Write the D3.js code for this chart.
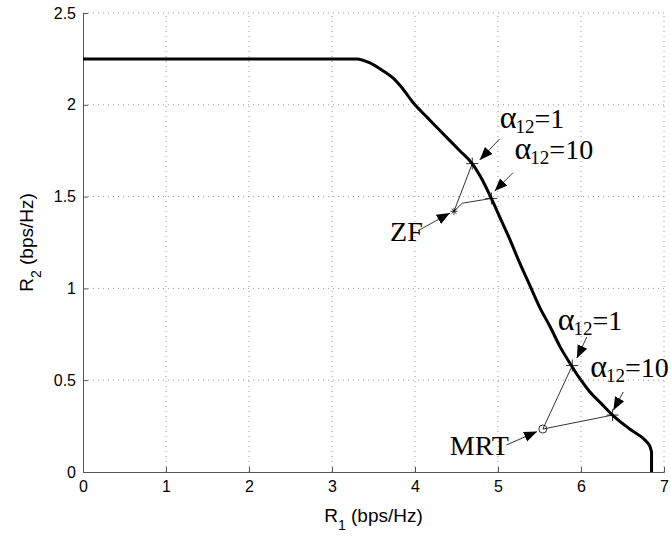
<!DOCTYPE html>
<html>
<head>
<meta charset="utf-8"/>
<title>Rate region</title>
<style>
  body { margin: 0; background: #fff; }
  svg { display: block; }
  .tick text { font-family: "Liberation Sans", Arial, sans-serif; font-size: 16px; fill: #000; }
  .grid line { stroke: #999; stroke-dasharray: 1,4; }
  .ann { font-family: "Liberation Serif", "Times New Roman", serif; font-size: 28px; fill: #000; }
</style>
</head>
<body>
<svg width="671" height="538"></svg>
<script src="https://cdn.jsdelivr.net/npm/d3@7"></script>
<script>

// rate region boundary
var r1 = [0, 3.30, 3.45, 3.60, 3.75, 3.83, 4.00, 4.15, 4.30, 4.54, 4.69, 4.80, 4.92, 5.02, 5.14, 5.26, 5.39, 5.51, 5.63, 5.75, 5.87, 6.00, 6.10, 6.24, 6.38, 6.60, 6.78, 6.83, 6.85, 6.85];
var r2 = [2.25, 2.25, 2.23, 2.19, 2.14, 2.10, 2.00, 1.93, 1.86, 1.75, 1.68, 1.60, 1.49, 1.39, 1.27, 1.14, 1.01, 0.89, 0.79, 0.68, 0.59, 0.50, 0.44, 0.375, 0.31, 0.23, 0.17, 0.14, 0.11, 0];

var xTicks = [0, 1, 2, 3, 4, 5, 6, 7];
var yTicks = [0, 0.5, 1, 1.5, 2, 2.5];

// operating points
var zfPoint = [4.47, 1.42];
var zfAlpha1 = [4.69, 1.68];
var zfAlpha10 = [4.92, 1.49];
var zfBend = [4.57, 1.464];
var mrtPoint = [5.54, 0.234];
var mrtAlpha1 = [5.895, 0.58];
var mrtAlpha10 = [6.38, 0.31];

// annotations (data units)
var labelNames = ["ZF", "MRT"];
var labelAt = [[3.70, 1.26], [4.42, 0.092]];
var labelArrows = [[[4.04, 1.315], [4.42, 1.41]], [[5.10, 0.147], [5.47, 0.22]]];

var alphaVals = ["1", "10", "1", "10"];
var alphaAt = [[5.02, 1.872], [5.20, 1.705], [5.72, 0.775], [6.11, 0.515]];
var alphaArrows = [
  [[5.02, 1.814], [4.78, 1.70]],
  [[5.18, 1.63], [4.96, 1.53]],
  [[6.07, 0.735], [5.95, 0.62]],
  [[6.51, 0.436], [6.39, 0.337]]
];

var svg = d3.select("svg");
var x = d3.scaleLinear().domain([0, 7]).range([83, 664]);
var y = d3.scaleLinear().domain([0, 2.5]).range([472, 13]);

svg.append("defs").append("marker")
    .attr("id", "head")
    .attr("viewBox", "0 0 10 10")
    .attr("refX", 10).attr("refY", 5)
    .attr("markerWidth", 13).attr("markerHeight", 13)
    .attr("markerUnits", "userSpaceOnUse")
    .attr("orient", "auto")
  .append("path")
    .attr("d", "M0,1 L10,5 L0,9 z")
    .attr("fill", "#000");

// grid
var grid = svg.append("g").attr("class", "grid");
grid.selectAll("line.v").data(xTicks.slice(1)).enter().append("line")
    .attr("x1", function(d) { return x(d); }).attr("x2", function(d) { return x(d); })
    .attr("y1", y(0)).attr("y2", y(2.5));
grid.selectAll("line.h").data(yTicks.slice(1)).enter().append("line")
    .attr("x1", x(0)).attr("x2", x(7))
    .attr("y1", function(d) { return y(d); }).attr("y2", function(d) { return y(d); });

// axes
var xAxis = svg.append("g")
    .attr("transform", "translate(0," + y(0) + ")")
    .call(d3.axisBottom(x).tickValues(xTicks).tickFormat(d3.format("d")).tickSize(-5).tickPadding(9));
var yAxis = svg.append("g")
    .attr("transform", "translate(" + x(0) + ",0)")
    .call(d3.axisLeft(y).tickValues(yTicks).tickFormat(function(d) { return String(d); }).tickSize(-5).tickPadding(7));
[xAxis, yAxis].forEach(function(a) {
  a.select(".domain").attr("stroke", "#555");
  a.selectAll(".tick line").attr("stroke", "#555");
});

// axis titles
var xt = svg.append("text")
    .attr("x", (x(0) + x(7)) / 2).attr("y", 522)
    .attr("text-anchor", "middle")
    .style("font-family", "Liberation Sans, Arial, sans-serif").style("font-size", "19px");
xt.append("tspan").text("R");
xt.append("tspan").text("1").attr("dy", 8).style("font-size", "14px");
xt.append("tspan").text(" (bps/Hz)").attr("dy", -8);

var yt = svg.append("text")
    .attr("transform", "translate(33," + (y(0) + y(2.5)) / 2 + ") rotate(-90)")
    .attr("text-anchor", "middle")
    .style("font-family", "Liberation Sans, Arial, sans-serif").style("font-size", "19px");
yt.append("tspan").text("R");
yt.append("tspan").text("2").attr("dy", 8).style("font-size", "14px");
yt.append("tspan").text(" (bps/Hz)").attr("dy", -8);

// boundary curve: smooth over the monotone part, straight drop at the end
var line = d3.line().x(function(d) { return x(d[0]); }).y(function(d) { return y(d[1]); });
var smooth = d3.line().x(function(d) { return x(d[0]); }).y(function(d) { return y(d[1]); })
    .curve(d3.curveMonotoneX);
var pts = d3.zip(r1, r2);
var n = pts.length;
svg.append("path")
    .attr("d", smooth(pts.slice(0, n - 1)) + "L" + x(pts[n - 1][0]) + "," + y(pts[n - 1][1]))
    .attr("fill", "none").attr("stroke", "#000").attr("stroke-width", 3)
    .attr("stroke-linejoin", "round");

// thin connecting lines
var thin = [[zfPoint, zfAlpha1], [zfPoint, zfBend, zfAlpha10], [mrtPoint, mrtAlpha1], [mrtPoint, mrtAlpha10]];
svg.append("g").selectAll("path").data(thin).enter().append("path")
    .attr("d", line)
    .attr("fill", "none").attr("stroke", "#000").attr("stroke-width", 0.8);

// plus markers
var plus = [zfAlpha1, zfAlpha10, mrtAlpha1, mrtAlpha10];
svg.append("g").selectAll("path").data(plus).enter().append("path")
    .attr("d", function(d) {
      var px = x(d[0]), py = y(d[1]), s = 6;
      return "M" + (px - s) + "," + py + "H" + (px + s) + "M" + px + "," + (py - s) + "V" + (py + s);
    })
    .attr("stroke", "#000").attr("stroke-width", 0.8);

// ZF star
svg.append("path")
    .attr("d", function() {
      var px = x(zfPoint[0]), py = y(zfPoint[1]), s = 3.5, p = "";
      [0, 45, 90, 135].forEach(function(a) {
        var r = a * Math.PI / 180, dx = s * Math.cos(r), dy = s * Math.sin(r);
        p += "M" + (px - dx) + "," + (py - dy) + "L" + (px + dx) + "," + (py + dy);
      });
      return p;
    })
    .attr("stroke", "#000").attr("stroke-width", 0.8);

// MRT circle
svg.append("circle")
    .attr("cx", x(mrtPoint[0])).attr("cy", y(mrtPoint[1])).attr("r", 4)
    .attr("fill", "none").attr("stroke", "#000").attr("stroke-width", 0.8);

// arrows
svg.append("g").selectAll("line").data(labelArrows.concat(alphaArrows)).enter().append("line")
    .attr("x1", function(d) { return x(d[0][0]); }).attr("y1", function(d) { return y(d[0][1]); })
    .attr("x2", function(d) { return x(d[1][0]); }).attr("y2", function(d) { return y(d[1][1]); })
    .attr("stroke", "#000").attr("stroke-width", 0.8)
    .attr("marker-end", "url(#head)");

// labels
svg.append("g").selectAll("text").data(labelNames).enter().append("text")
    .attr("class", "ann")
    .attr("x", function(d, i) { return x(labelAt[i][0]); })
    .attr("y", function(d, i) { return y(labelAt[i][1]); })
    .text(function(d) { return d; });

alphaVals.forEach(function(v, i) {
  var t = svg.append("text").attr("class", "ann")
      .attr("x", x(alphaAt[i][0])).attr("y", y(alphaAt[i][1]));
  t.append("tspan").text("α").style("font-size", "32px");
  t.append("tspan").text("12").attr("dx", -1).attr("dy", 5).style("font-size", "19px");
  t.append("tspan").text("=" + v).attr("dy", -5);
});

</script>
</body>
</html>
